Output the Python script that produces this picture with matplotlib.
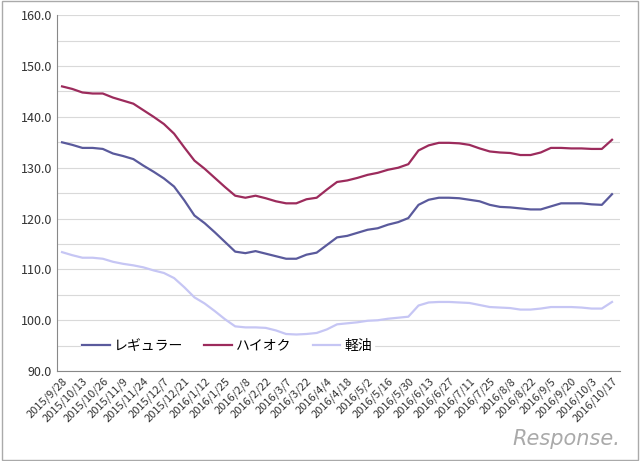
import matplotlib
matplotlib.use("Agg")
import matplotlib.pyplot as plt

labels = ["2015/9/28","2015/10/13","2015/10/26","2015/11/9","2015/11/24","2015/12/7","2015/12/21",
          "2016/1/12","2016/1/25","2016/2/8","2016/2/22","2016/3/7","2016/3/22","2016/4/4","2016/4/18",
          "2016/5/2","2016/5/16","2016/5/30","2016/6/13","2016/6/27","2016/7/11","2016/7/25","2016/8/8",
          "2016/8/22","2016/9/5","2016/9/20","2016/10/3","2016/10/17"]
high = [146,145.5,144.8,144.6,144.6,143.8,143.2,142.6,141.3,140,138.6,136.7,134,131.4,129.8,128,126.2,
        124.5,124.1,124.5,124,123.4,123,123,123.8,124.1,125.7,127.2,127.5,128,128.6,129,129.6,130,130.7,
        133.4,134.4,134.9,134.9,134.8,134.5,133.8,133.2,133,132.9,132.5,132.5,133,133.9,133.9,133.8,133.8,
        133.7,133.7,135.5]
regular = [135,134.5,133.9,133.9,133.7,132.8,132.3,131.7,130.4,129.2,127.9,126.3,123.6,120.6,119.1,117.3,
           115.4,113.5,113.2,113.6,113.1,112.6,112.1,112.1,112.9,113.3,114.8,116.3,116.6,117.2,117.8,118.1,
           118.8,119.3,120.1,122.7,123.7,124.1,124.1,124,123.7,123.4,122.7,122.3,122.2,122,121.8,121.8,
           122.4,123,123,123,122.8,122.7,124.8]
diesel = [113.4,112.8,112.3,112.3,112.1,111.5,111.1,110.8,110.4,109.8,109.3,108.3,106.5,104.5,103.3,101.8,
          100.2,98.8,98.6,98.6,98.5,98,97.3,97.2,97.3,97.5,98.2,99.2,99.4,99.6,99.9,100,100.3,100.5,100.7,
          102.9,103.5,103.6,103.6,103.5,103.4,103,102.6,102.5,102.4,102.1,102.1,102.3,102.6,102.6,102.6,
          102.5,102.3,102.3,103.6]

plt.rcParams["font.family"] = ["Noto Sans CJK JP"]
fig = plt.figure(figsize=(6.4, 4.61), dpi=100)
ax = fig.add_axes([0.089, 0.195, 0.88, 0.772])
x = list(range(len(high)))
ax.plot(x, regular, color="#5a5a9c", lw=1.6, label="レギュラー")
ax.plot(x, high, color="#9c2b5c", lw=1.6, label="ハイオク")
ax.plot(x, diesel, color="#c6c6f4", lw=1.6, label="軽油")
ax.set_ylim(90, 160)
ax.set_yticks(range(90, 161, 10))
ax.set_yticklabels([f"{v:.1f}" for v in range(90, 161, 10)], fontsize=9, color="#333333")
ax.set_yticks(range(95, 160, 10), minor=True)
ax.tick_params(axis="y", which="both", length=0)
ax.grid(axis="y", which="both", color="#d9d9d9", lw=0.8)
ax.set_axisbelow(True)
ax.set_xlim(-0.5, len(high) - 0.2)
ax.set_xticks(x[::2])
ax.set_xticklabels(labels, rotation=45, ha="right", rotation_mode="anchor", fontsize=8, color="#333333")
ax.tick_params(axis="x", length=0)
for s in ["top", "right"]:
    ax.spines[s].set_visible(False)
ax.spines["left"].set_color("#888888")
ax.spines["bottom"].set_color("#888888")
ax.legend(loc="center left", bbox_to_anchor=(0.03, 5 / 70), ncol=3, frameon=True, facecolor="white",
          edgecolor="white", framealpha=1, fontsize=10, handlelength=2, columnspacing=1.5,
          borderpad=0.1, handletextpad=0.3)
fig.text(0.97, 0.035, "Response.", ha="right", fontsize=15, color="#aaaaaa", style="italic",
         family="DejaVu Sans")
fig.patches.append(plt.Rectangle((0.003, 0.003), 0.994, 0.994, transform=fig.transFigure,
                                 fill=False, edgecolor="#aaaaaa", lw=1))
fig.savefig("out.png", dpi=100)
